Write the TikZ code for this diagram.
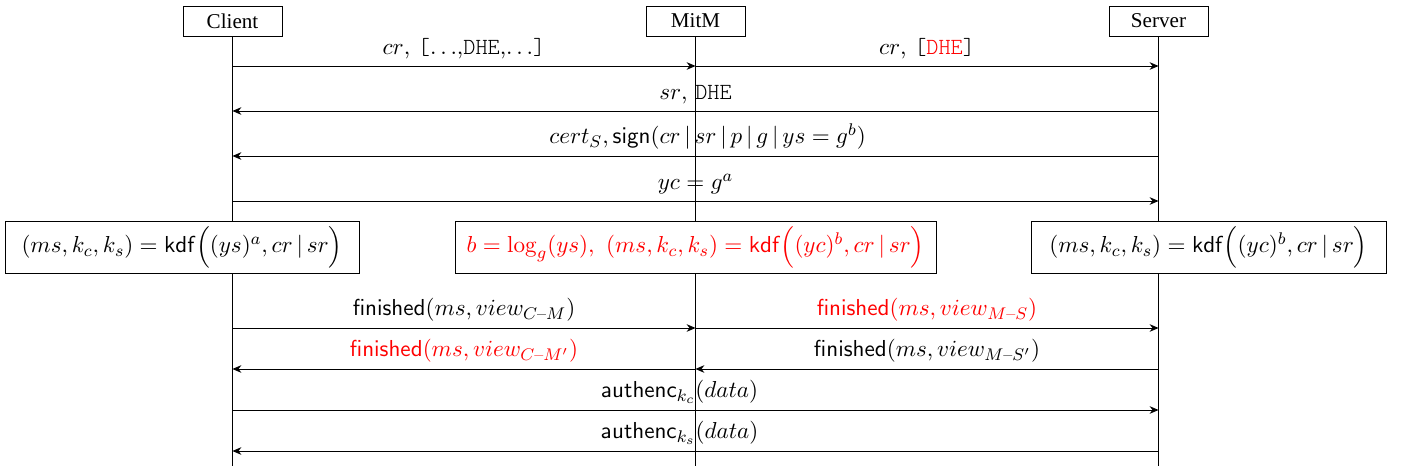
\documentclass[tikz,border=0pt]{standalone}
\usepackage[no-math]{fontspec}
\usepackage{amsmath}
\newfontfamily\actorfont{Liberation Serif}
\newfontfamily\ttlight{Latin Modern Mono Light}
\usepackage{xcolor}
\usetikzlibrary{arrows.meta}
\newcommand{\dhe}{{\ttlight DHE}}
\newcommand{\mydash}{\text{--}}
\begin{document}
\begin{tikzpicture}[x=0.474pt,y=-0.474pt,
  actor/.style={draw,fill=white,minimum width=46.9pt,minimum height=14.2pt,inner sep=2pt,font=\actorfont},
  calcbox/.style={draw,fill=white,minimum height=24.6pt,inner sep=2pt,font=\fontsize{10.95}{13.6}\selectfont},
  life/.style={line width=0.4pt},
  msg/.style={-{Stealth[length=4.2pt,width=3.6pt]}},
  lbl/.style={above,inner sep=3pt,font=\fontsize{10.95}{13.6}\selectfont}]
\useasboundingbox (0,0) rectangle (1401,468);
% actors
\node[actor] (client) at (232.5,21) {Client};
\node[actor] (mitm) at (695.5,21) {MitM};
\node[actor] (server) at (1158.5,21) {Server};
\coordinate (cend) at (232.5,466);
\coordinate (mend) at (695.5,466);
\coordinate (send) at (1158.5,466);
\draw[life] (client.south) -- (cend);
\draw[life] (mitm.south) -- (mend);
\draw[life] (server.south) -- (send);
% message rows
\foreach \r/\y in {1/66,2/111,3/156,4/201,5/328,6/369,7/410,8/451}{
  \coordinate (c\r) at (232.5,\y);
  \coordinate (m\r) at (695.5,\y);
  \coordinate (s\r) at (1158.5,\y);
}
% computation boxes
\node[calcbox,minimum width=167.8pt] (ccalc) at (182,247)
  {$(ms,k_c,k_s) = \mathsf{kdf}\Big((ys)^a, cr \,|\, sr\Big)$};
\node[calcbox,minimum width=228pt,text=red] (mcalc) at (695.5,247)
  {$b=\log_g(ys),\ (ms,k_c,k_s)=\mathsf{kdf}\Big((yc)^b, cr \,|\, sr\Big)$};
\node[calcbox,minimum width=168.3pt] (scalc) at (1208.5,247)
  {$(ms,k_c,k_s) = \mathsf{kdf}\Big((yc)^b, cr \,|\, sr\Big)$};
% messages
\draw[msg] (c1) -- node[lbl]{$cr$, {\ttlight[}$\ldots$,\dhe,$\ldots${\ttlight]}} (m1);
\draw[msg] (m1) -- node[lbl]{$cr$, {\ttlight[\textcolor{red}{DHE}]}} (s1);
\draw[msg] (s2) -- node[lbl]{$sr$, \dhe} (c2);
\draw[msg] (s3) -- node[lbl,xshift=5.7pt]{$cert_S, \mathsf{sign}(cr \,|\, sr \,|\, p \,|\, g \,|\, ys=g^b)$} (c3);
\draw[msg] (c4) -- node[lbl]{$yc = g^a$} (s4);
\draw[msg] (c5) -- node[lbl]{$\mathsf{finished}(ms, view_{C\mydash M})$} (m5);
\draw[msg] (m5) -- node[lbl,text=red]{$\mathsf{finished}(ms, view_{M\mydash S})$} (s5);
\draw[msg] (m6) -- node[lbl,text=red]{$\mathsf{finished}(ms, view_{C\mydash M'})$} (c6);
\draw[msg] (s6) -- node[lbl]{$\mathsf{finished}(ms, view_{M\mydash S'})$} (m6);
\draw[msg] (c7) -- node[lbl,xshift=-7.5pt]{$\mathsf{authenc}_{k_c}(data)$} (s7);
\draw[msg] (s8) -- node[lbl,xshift=-7.5pt]{$\mathsf{authenc}_{k_s}(data)$} (c8);
\end{tikzpicture}
\end{document}
